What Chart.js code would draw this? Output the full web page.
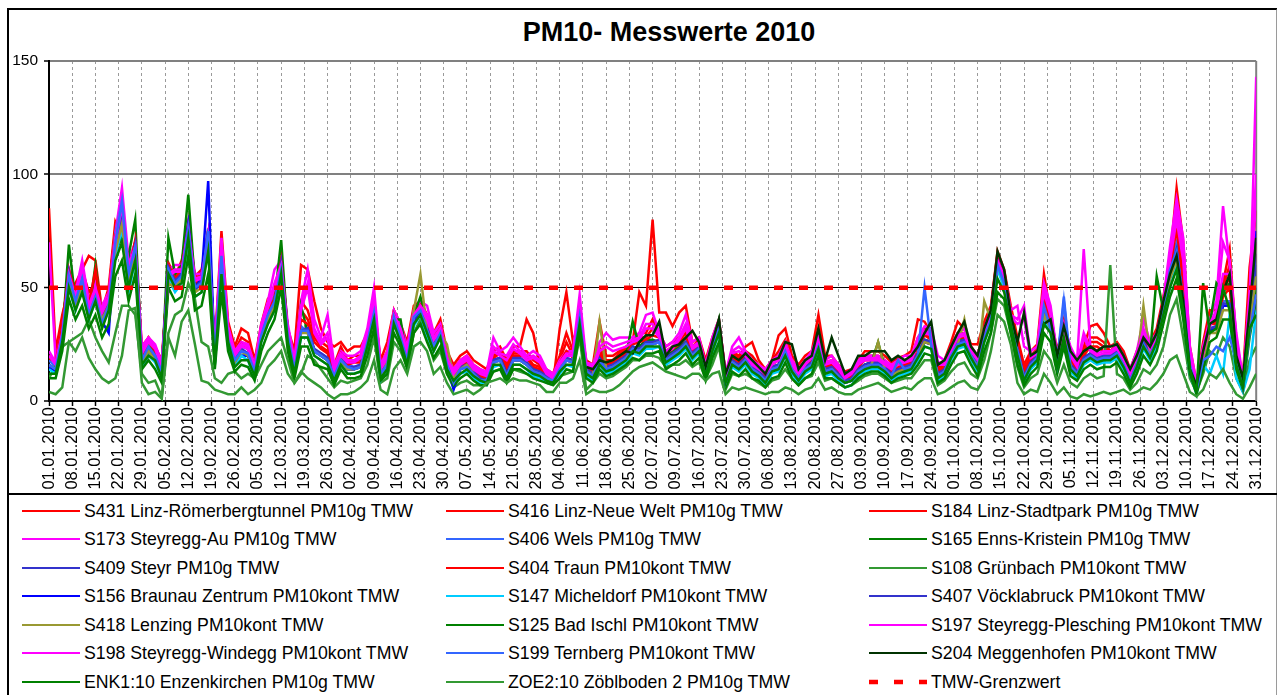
<!DOCTYPE html>
<html><head><meta charset="utf-8">
<script src="https://cdn.jsdelivr.net/npm/chart.js@4.4.1/dist/chart.umd.min.js"></script>
<style>
html,body{margin:0;padding:0;background:#fff;}
#wrap{position:relative;width:1277px;height:695px;overflow:hidden;font-family:'Liberation Sans',Arial,sans-serif;color:#000;}
#frame{position:absolute;left:7px;top:8px;width:1267px;height:720px;border-left:2px solid #000;border-top:2px solid #000;border-right:2px solid #9a9a9a;}
#sep{position:absolute;left:7px;top:493px;width:1270px;height:0;border-top:2px solid #000;}
#title{position:absolute;left:669px;top:19px;transform:translateX(-50%);font-weight:bold;font-size:27px;line-height:27px;white-space:nowrap;}
#chart{position:absolute;left:0;top:0;}
.lg{position:absolute;height:20px;display:flex;align-items:center;font-size:17.7px;line-height:20px;white-space:nowrap;}
.lg svg{margin-right:4px;flex:none;}
</style></head><body>
<div id="wrap">
<div id="frame"></div>
<div id="title">PM10- Messwerte 2010</div>
<canvas id="chart" width="1277" height="493"></canvas>
<div id="sep"></div>
<div id="legend"></div>
</div>
<script>
// x tick labels (every 7 days)
const tickLabels = ['01.01.2010','08.01.2010','15.01.2010','22.01.2010','29.01.2010','05.02.2010','12.02.2010','19.02.2010','26.02.2010','05.03.2010','12.03.2010','19.03.2010','26.03.2010','02.04.2010','09.04.2010','16.04.2010','23.04.2010','30.04.2010','07.05.2010','14.05.2010','21.05.2010','28.05.2010','04.06.2010','11.06.2010','18.06.2010','25.06.2010','02.07.2010','09.07.2010','16.07.2010','23.07.2010','30.07.2010','06.08.2010','13.08.2010','20.08.2010','27.08.2010','03.09.2010','10.09.2010','17.09.2010','24.09.2010','01.10.2010','08.10.2010','15.10.2010','22.10.2010','29.10.2010','05.11.2010','12.11.2010','19.11.2010','26.11.2010','03.12.2010','10.12.2010','17.12.2010','24.12.2010','31.12.2010'];
// sampled day index (day of year, every 2nd day)
const days = Array.from({length:183},(_,i)=>i*2);

const s431 = [85,22,38,50,52,58,64,62,40,50,79,72,60,70,
24,28,24,18,58,55,62,75,55,58,72,24,75,35,
24,32,30,18,34,45,48,60,32,22,60,58,44,32,
26,24,26,22,24,24,30,42,18,26,40,34,26,42,
44,38,30,36,22,16,20,22,18,16,14,22,24,18,
24,24,36,30,16,12,8,32,48,26,36,18,16,35,
20,20,22,24,26,48,42,80,39,39,33,39,42,26,
28,18,28,36,12,22,20,24,26,18,14,18,29,32,
20,16,20,22,38,20,20,16,13,14,18,22,22,22,
20,17,19,20,22,36,35,30,16,18,26,35,32,25,
25,35,42,66,58,42,28,16,22,25,56,38,22,36,
22,18,24,33,34,30,24,26,22,14,22,30,26,32,
46,62,94,70,24,8,26,40,40,52,67,26,10,59,
84];
const s416 = [20,18,36,54,50,58,48,52,40,48,76,80,58,68,
22,28,24,16,60,56,60,78,54,56,74,22,70,32,
22,28,26,16,32,42,46,62,32,18,44,40,30,26,
24,16,24,18,20,20,30,44,16,22,40,32,22,40,
42,36,28,34,20,14,18,20,16,14,12,20,22,16,
22,22,22,18,16,14,12,20,30,22,38,16,15,24,
18,18,21,23,27,30,30,36,30,24,26,28,32,24,
27,16,27,35,12,21,19,22,20,16,13,18,22,27,
18,14,18,20,32,17,18,15,12,13,17,20,20,20,
18,15,17,18,19,28,32,29,15,17,24,30,30,24,
20,32,40,65,57,40,26,14,20,23,50,36,20,34,
20,16,22,28,28,26,22,25,20,12,20,29,24,30,
44,60,86,60,22,7,24,36,36,50,60,24,9,50,
75];
const s184 = [20,17,34,56,48,57,44,55,39,47,75,84,56,70,
21,27,23,15,61,55,59,79,53,55,76,21,68,31,
21,26,24,15,31,41,46,63,31,17,40,36,28,24,
22,14,22,17,18,18,29,43,15,20,39,31,21,39,
43,34,27,33,19,13,17,18,15,12,11,20,21,15,
21,21,20,16,15,13,11,18,26,20,39,16,14,22,
17,18,20,22,26,28,28,32,29,22,24,26,30,23,
26,15,26,35,11,20,18,21,18,15,12,17,20,26,
17,13,17,19,30,16,17,14,11,12,16,19,19,19,
17,14,16,17,18,26,30,28,14,16,23,29,29,23,
19,31,39,64,56,39,25,13,19,22,48,35,19,33,
19,15,21,26,26,24,22,24,19,12,19,28,23,29,
43,59,80,56,20,7,22,35,35,48,55,22,9,46,
70];
const s173 = [70,18,32,58,48,62,44,52,42,48,74,94,62,70,
24,28,25,17,58,60,60,78,56,56,74,23,72,33,
22,26,25,16,34,44,58,62,34,18,44,58,36,28,
38,16,22,20,20,22,32,50,16,22,40,34,24,40,
44,42,30,34,20,14,18,20,16,14,13,28,22,24,
28,24,20,22,20,14,12,18,22,22,47,17,16,26,
30,27,28,28,28,30,38,39,30,24,26,30,38,26,
28,16,28,36,12,24,28,22,18,16,14,18,20,26,
18,14,18,22,30,18,20,16,12,14,18,20,20,20,
18,16,18,20,20,28,33,32,20,18,24,30,32,24,
20,32,40,64,56,40,42,24,22,24,52,42,20,34,
24,18,67,24,22,24,24,25,20,14,22,36,26,30,
44,68,89,72,24,8,24,36,44,86,60,30,10,48,
100];
const s406 = [18,15,31,58,46,56,41,48,35,44,74,88,58,70,
20,26,21,15,60,54,57,78,51,54,76,21,68,28,
20,24,23,15,31,41,46,60,31,16,33,30,22,21,
19,12,19,16,15,16,27,41,13,17,38,29,19,39,
40,32,25,31,17,6,15,16,13,10,10,18,19,12,
19,19,17,14,13,11,10,15,19,18,40,14,12,18,
15,16,18,20,24,23,26,26,27,19,21,23,26,21,
24,13,24,33,9,18,16,19,15,13,10,15,16,23,
15,11,15,17,25,14,15,12,9,10,14,16,17,17,
15,12,16,15,16,21,27,26,12,14,21,26,27,21,
16,29,37,62,54,37,23,11,17,20,47,33,17,46,
16,13,19,21,19,20,20,22,17,10,17,26,21,27,
41,60,70,46,17,5,19,32,33,44,44,19,7,37,
50];
const s165 = [14,15,28,69,44,52,38,60,36,44,66,72,64,80,
18,24,22,12,72,56,60,91,52,50,70,19,60,28,
16,20,20,12,28,38,44,71,30,14,42,30,22,20,
18,10,18,14,14,16,26,38,12,16,36,36,18,38,
46,34,24,30,16,10,14,16,13,10,10,18,18,12,
18,18,16,14,13,11,10,15,18,18,38,14,12,20,
15,16,18,20,35,24,27,27,26,20,22,24,26,22,
24,13,24,36,9,18,16,20,15,13,10,15,16,22,
15,11,15,17,25,14,15,12,9,10,14,16,17,26,
15,12,14,15,16,21,27,26,12,14,22,27,28,22,
16,29,38,60,50,36,22,11,17,20,40,33,17,31,
16,13,19,21,19,20,20,22,17,10,17,26,21,55,
40,54,62,42,16,5,19,34,52,48,52,19,8,36,
50];
const s409 = [16,14,28,55,42,52,38,47,36,42,68,80,52,68,
17,22,18,12,58,52,55,76,49,52,74,18,60,27,
17,22,20,12,28,37,42,60,28,13,30,31,22,20,
18,10,18,14,14,15,26,40,11,16,36,28,18,35,
40,31,24,30,16,10,14,15,12,9,9,17,18,11,
18,18,16,13,12,10,9,14,18,17,35,13,11,18,
14,15,17,19,23,22,25,25,26,18,20,22,25,20,
23,12,23,32,8,17,15,18,14,12,9,14,15,22,
14,10,14,16,24,13,14,11,8,9,13,15,16,16,
14,11,13,14,15,20,26,25,11,13,20,25,26,20,
15,28,36,60,52,36,22,10,16,19,38,32,16,30,
15,12,18,20,18,19,19,21,16,9,16,25,20,26,
40,56,66,43,16,4,18,31,32,42,42,18,6,36,
60];
const s404 = [19,17,33,58,47,56,42,58,38,46,73,82,57,71,
20,26,22,15,60,54,58,78,52,54,75,20,66,30,
20,25,23,15,30,40,45,62,30,16,36,34,26,23,
21,13,21,16,17,17,28,42,14,19,38,30,20,38,
42,33,26,32,18,12,16,17,14,11,10,19,21,14,
20,20,19,15,14,12,10,17,22,19,38,15,13,21,
16,17,19,21,25,26,27,29,28,21,23,25,28,22,
25,14,25,34,10,19,17,20,17,14,11,16,18,25,
16,12,16,18,28,15,16,13,10,11,15,18,18,18,
16,13,15,16,17,24,29,27,13,15,22,28,28,22,
18,30,38,63,55,38,24,12,18,21,45,34,18,32,
18,14,20,24,24,22,21,23,18,11,18,27,22,28,
42,58,76,52,19,6,21,34,34,46,50,21,8,42,
65];
const s108 = [10,16,24,26,28,30,36,28,22,17,30,42,42,38,
12,8,9,2,30,38,40,52,45,26,24,10,8,12,
13,10,12,10,16,22,25,28,18,8,12,20,18,14,
10,6,9,8,9,10,16,28,8,10,26,22,15,30,
36,28,18,22,12,6,8,9,7,7,10,13,14,10,
14,13,12,11,10,8,7,11,12,13,28,5,8,12,
10,11,13,15,18,18,20,20,19,15,16,16,18,15,
17,10,16,24,5,12,11,12,10,8,6,9,10,14,
10,7,10,11,17,9,10,8,6,7,9,11,12,12,
10,8,9,10,10,14,18,18,7,9,13,16,17,12,
10,18,30,45,42,30,15,6,10,12,22,18,8,16,
8,6,10,12,10,11,60,12,10,5,8,14,12,16,
24,38,45,28,10,4,12,22,20,28,24,10,4,18,
24];
const s156 = [15,13,27,56,44,58,40,46,35,30,70,86,50,65,
16,22,18,12,58,52,56,78,50,54,97,18,62,28,
16,20,20,12,28,38,43,58,28,12,30,32,22,20,
18,10,19,14,14,15,26,40,10,16,36,28,18,36,
40,32,24,30,16,5,14,16,12,9,9,18,19,12,
18,18,17,13,12,10,9,14,18,18,36,13,11,18,
14,15,17,19,23,22,25,25,26,18,20,22,25,20,
23,12,23,33,8,17,15,18,14,12,9,14,16,22,
14,10,14,16,24,13,14,11,8,9,13,16,17,16,
14,11,14,14,15,20,26,25,11,13,20,25,26,20,
15,28,36,62,54,36,22,10,16,19,40,32,16,30,
15,12,18,20,18,19,19,21,16,9,16,25,20,26,
40,56,66,43,16,4,18,31,32,42,42,18,6,36,
75];
const s147 = [14,12,25,50,40,50,36,44,33,40,64,76,48,62,
15,20,17,10,54,48,52,70,46,48,68,16,56,24,
15,20,18,10,26,34,40,56,26,12,28,28,20,18,
16,9,16,12,12,13,24,38,9,14,34,26,16,33,
38,29,22,28,14,8,12,13,10,8,7,15,16,10,
16,16,14,11,10,8,8,12,16,15,33,11,9,16,
12,13,15,17,21,20,23,23,24,16,18,20,23,18,
21,10,21,30,7,15,13,16,12,10,7,12,13,20,
12,8,12,14,22,11,12,9,6,7,11,13,14,14,
12,9,11,12,13,18,24,23,9,11,18,23,24,18,
13,26,34,58,50,34,20,8,14,17,36,30,14,28,
13,10,16,18,16,17,17,19,14,7,14,23,18,24,
38,50,60,38,12,3,16,12,20,12,38,10,4,14,
40];
const s407 = [16,14,29,57,43,53,39,48,36,43,70,82,54,69,
18,23,19,13,59,53,56,77,50,53,75,19,62,28,
18,23,21,13,29,38,43,61,29,14,31,32,23,21,
19,11,19,15,15,16,27,41,12,17,37,29,19,36,
41,32,25,31,17,11,15,16,13,10,9,18,19,12,
19,19,17,14,13,11,10,15,19,18,36,14,12,19,
15,16,18,20,24,23,26,26,27,19,21,23,26,21,
24,13,24,33,9,18,16,19,15,13,10,15,16,23,
15,11,15,17,25,14,15,12,9,10,14,16,17,17,
15,12,14,15,16,21,27,26,12,14,21,26,27,21,
16,29,37,61,53,37,23,11,17,20,39,33,17,31,
16,13,19,21,19,20,20,22,17,10,17,26,21,27,
41,57,67,44,17,5,19,32,33,43,43,19,7,37,
65];
const s418 = [16,14,26,52,42,52,38,46,36,42,66,78,52,66,
17,22,18,12,52,50,54,74,48,50,70,18,60,27,
17,22,20,12,28,36,42,58,28,13,30,30,22,20,
18,10,18,14,14,15,26,40,11,17,36,28,18,40,
56,31,24,30,25,10,14,16,12,9,9,17,18,11,
18,18,16,13,12,10,9,14,18,17,34,13,11,35,
14,15,17,19,23,22,25,25,26,18,20,22,25,20,
23,12,23,32,8,17,15,18,14,12,9,14,15,22,
14,10,14,16,24,13,14,11,8,9,13,15,16,26,
14,11,13,14,15,20,26,25,11,13,20,25,36,20,
15,44,36,60,52,36,22,10,16,19,38,32,16,30,
15,12,18,20,18,19,19,21,16,9,16,42,20,26,
40,54,62,42,15,4,18,30,30,40,40,17,6,34,
55];
const s125 = [10,10,22,45,36,42,32,38,28,34,55,62,44,56,
14,18,14,8,50,44,46,64,40,42,56,14,48,22,
13,16,15,9,22,30,36,50,22,10,24,24,16,15,
14,7,14,10,10,11,20,32,9,12,30,24,14,30,
34,26,19,24,12,7,10,12,9,7,7,13,14,8,
14,14,12,10,9,8,7,10,14,13,30,10,8,14,
11,12,14,16,19,18,21,21,22,14,16,18,21,16,
19,9,19,26,6,13,11,14,10,9,6,10,11,17,
10,7,10,12,20,10,10,8,6,7,10,12,13,13,
11,8,10,11,12,16,21,20,8,10,16,21,22,16,
11,22,30,48,45,30,16,7,12,15,30,26,12,24,
11,9,14,16,14,15,15,17,12,6,12,20,16,22,
34,46,54,36,12,3,14,26,28,36,36,14,5,28,
45];
const s197 = [22,17,30,56,46,60,42,50,40,46,72,88,60,68,
22,27,24,16,56,58,58,76,54,55,72,22,70,31,
21,25,24,15,33,42,52,60,32,17,42,52,32,26,
30,14,21,18,18,20,30,46,15,20,38,32,22,38,
42,38,28,32,19,13,17,19,15,13,12,24,21,20,
25,22,19,20,18,13,11,17,21,21,42,16,15,24,
26,24,25,26,27,28,34,34,29,22,24,28,34,24,
26,15,26,34,11,22,24,21,17,15,13,17,19,25,
17,13,17,20,28,17,18,15,11,13,17,19,19,19,
17,15,17,18,19,26,31,30,17,17,23,29,30,23,
19,31,39,62,55,38,36,42,20,22,50,40,19,33,
21,16,30,23,21,22,22,24,19,13,20,32,24,29,
43,64,84,66,22,7,22,34,40,70,62,28,9,44,
90];
const s198 = [20,16,29,55,45,58,41,49,39,45,70,86,58,66,
21,26,23,15,55,57,57,75,53,54,70,21,68,30,
20,24,23,14,32,41,50,58,31,16,40,50,30,25,
28,13,20,17,17,19,29,44,14,19,37,31,21,37,
41,36,27,31,18,12,16,18,14,12,11,22,20,18,
23,21,18,19,17,12,10,16,20,20,40,15,14,22,
24,22,23,24,26,27,32,32,28,21,23,27,32,23,
25,14,25,33,10,21,22,20,16,14,12,16,18,24,
16,12,16,19,27,16,17,14,10,12,16,18,18,18,
16,14,16,17,18,25,30,29,16,16,22,28,29,22,
18,30,38,60,53,37,34,36,19,21,48,38,18,32,
20,15,28,22,20,21,21,23,18,12,19,30,23,28,
42,62,80,62,21,6,21,33,38,56,56,26,8,40,
143];
const s199 = [16,14,29,55,44,54,38,46,34,42,70,88,56,68,
18,24,20,13,58,52,55,76,50,52,75,19,64,27,
18,22,21,13,29,38,44,58,29,14,31,31,22,20,
18,11,18,15,14,15,26,39,12,16,37,28,18,37,
40,31,24,30,16,8,14,15,12,9,9,17,18,11,
18,18,16,13,12,10,9,14,18,17,37,13,11,18,
14,15,17,19,23,22,25,25,26,18,20,22,25,20,
23,12,23,32,8,17,15,18,14,12,9,14,15,22,
14,10,14,16,24,13,14,11,8,9,13,15,16,16,
14,11,18,14,15,20,50,25,11,13,20,25,26,20,
15,28,36,60,52,36,22,10,16,19,42,32,16,44,
15,12,18,20,18,19,19,21,16,9,16,25,20,26,
40,58,66,44,16,5,18,20,24,22,28,18,6,30,
47];
// S204 starts in June (no data before)
const s204 = Array(81).fill(null).concat([15,14,18,
17,18,20,22,21,26,29,29,35,20,24,25,28,31,
26,15,26,36,12,20,18,21,18,15,12,18,19,26,
25,14,18,20,32,18,28,20,12,14,20,20,22,22,
22,18,20,18,20,24,30,35,16,18,24,30,35,24,
20,32,40,66,58,38,26,39,20,22,34,36,20,33,
22,18,22,24,22,24,24,25,20,14,20,28,24,30,
44,56,64,44,14,7,22,34,36,48,56,20,10,40,
72]);
const enk1 = [12,12,26,50,40,48,36,44,32,40,62,70,50,62,
16,20,18,10,56,50,52,72,46,48,66,16,56,26,
15,18,18,11,26,34,40,56,26,12,28,28,20,18,
16,9,16,12,12,13,24,36,10,14,34,26,16,34,
38,30,22,28,14,9,12,14,11,9,8,16,16,10,
16,16,14,12,11,9,8,13,16,16,34,12,10,16,
13,14,16,18,22,21,24,24,24,17,19,21,24,19,
22,11,22,30,8,16,14,17,13,11,8,13,14,20,
13,9,13,15,23,12,13,10,8,9,12,14,15,15,
13,10,12,13,14,19,24,23,10,12,19,24,25,19,
14,26,34,54,48,34,20,9,15,18,34,30,15,28,
14,11,17,19,17,18,18,20,15,8,15,24,19,26,
38,50,58,40,14,4,52,30,32,50,40,16,6,32,
38];
const zoe2 = [4,3,6,26,22,28,19,14,10,8,10,20,40,41,
8,3,4,1,28,20,35,40,25,9,8,5,4,3,
3,6,3,5,8,15,18,22,12,8,13,10,8,6,
3,1,3,3,4,6,9,18,5,3,14,18,12,24,
26,22,12,15,8,3,4,5,3,5,8,9,10,8,
10,9,9,8,7,4,4,8,8,10,18,3,5,4,
4,5,7,10,13,15,16,17,15,13,12,11,10,12,
12,9,12,13,3,6,5,6,5,4,3,4,4,6,
5,3,5,6,10,5,6,4,3,3,5,6,7,8,
6,4,5,6,5,8,10,10,3,4,6,8,9,6,
5,10,22,38,35,25,8,3,5,4,12,8,3,6,
2,1,3,2,3,4,3,4,5,3,4,6,5,8,
12,18,20,12,4,2,5,12,10,14,8,3,1,6,
12];
// limit value
const limitDays = [0, 364];
const limitValues = [50, 50];

const seriesNames = ['S431 Linz-Römerbergtunnel PM10g TMW','S416 Linz-Neue Welt PM10g TMW','S184 Linz-Stadtpark PM10g TMW',
'S173 Steyregg-Au PM10g TMW','S406 Wels PM10g TMW','S165 Enns-Kristein PM10g TMW',
'S409 Steyr PM10g TMW','S404 Traun PM10kont TMW','S108 Grünbach PM10kont TMW',
'S156 Braunau Zentrum PM10kont TMW','S147 Micheldorf PM10kont TMW','S407 Vöcklabruck PM10kont TMW',
'S418 Lenzing PM10kont TMW','S125 Bad Ischl PM10kont TMW','S197 Steyregg-Plesching PM10kont TMW',
'S198 Steyregg-Windegg PM10kont TMW','S199 Ternberg PM10kont TMW','S204 Meggenhofen PM10kont TMW',
'ENK1:10 Enzenkirchen PM10g TMW','ZOE2:10 Zöblboden 2 PM10g TMW'];
const seriesValues = [s431,s416,s184,s173,s406,s165,s409,s404,s108,s156,s147,s407,s418,s125,s197,s198,s199,s204,enk1,zoe2];
const seriesColors = ['#FF0000','#FF0000','#FF0000','#FF00FF','#3366FF','#008000','#3333CC','#FF0000','#339933',
'#0000FF','#00CCFF','#3333CC','#999933','#008000','#FF00FF','#FF00FF','#3366FF','#003300','#008000','#339933'];
const limitName = 'TMW-Grenzwert';

const datasets = seriesValues.map((vals, i) => ({
  label: seriesNames[i],
  data: days.map((d, k) => ({x: d, y: vals[k] === undefined ? null : vals[k]})),
  borderColor: seriesColors[i],
  backgroundColor: seriesColors[i],
  borderWidth: 2.5,
  pointRadius: 0,
  tension: 0,
  spanGaps: false,
  order: -i
}));
datasets.push({
  label: limitName,
  data: limitDays.map((d, k) => ({x: d, y: limitValues[k]})),
  borderColor: '#FF0000',
  borderWidth: 4.5,
  borderDash: [9, 16],
  pointRadius: 0,
  order: -100
});

const plotFrame = {
  id: 'plotFrame',
  beforeDatasetsDraw(c) {
    const {ctx, chartArea: a} = c;
    ctx.save();
    ctx.strokeStyle = '#808080';
    ctx.lineWidth = 2;
    ctx.beginPath();
    ctx.moveTo(a.right, a.top);
    ctx.lineTo(a.right, a.bottom);
    ctx.stroke();
    ctx.restore();
  }
};

const FONT = "'Liberation Sans', Arial, sans-serif";
new Chart(document.getElementById('chart'), {
  type: 'line',
  data: { datasets },
  plugins: [plotFrame],
  options: {
    responsive: false,
    animation: false,
    devicePixelRatio: 1,
    layout: { padding: { top: 61, right: 17, left: 0, bottom: 0 } },
    plugins: { legend: { display: false }, title: { display: false }, tooltip: { enabled: false } },
    scales: {
      x: {
        type: 'linear', min: 0, max: 364,
        afterFit: s => { s.height = 92; },
        ticks: {
          stepSize: 7, autoSkip: false, minRotation: 90, maxRotation: 90,
          color: '#000', font: { family: FONT, size: 16.5 }, padding: 1,
          callback: v => tickLabels[Math.round(v / 7)]
        },
        grid: { color: '#9a9a9a', lineWidth: 1, tickColor: '#000', tickLength: 5, tickWidth: 1.5 },
        border: { color: '#000', width: 2, dash: [3, 3] }
      },
      y: {
        min: 0, max: 150,
        afterFit: s => { s.width = 49; },
        ticks: { stepSize: 50, color: '#000', font: { family: FONT, size: 15.5 }, padding: 6 },
        grid: {
          color: c => c.tick.value === 50 ? '#000' : (c.tick.value === 0 ? 'rgba(0,0,0,0)' : '#808080'),
          lineWidth: c => c.tick.value === 50 ? 1 : 2,
          tickColor: '#000', tickLength: 5, tickWidth: 1.5
        },
        border: { color: '#000', width: 2 }
      }
    }
  }
});

// HTML legend: 3 columns, row-major
const colX = [22, 446, 869];
const rowY = [510.5, 539, 567.5, 596, 624.5, 653, 681.5];
const legend = document.getElementById('legend');
const items = seriesNames.map((n, i) => ({name: n, color: seriesColors[i], dash: false}));
items.push({name: limitName, color: '#FF0000', dash: true});
items.forEach((it, i) => {
  const r = Math.floor(i / 3), c = i % 3;
  const el = document.createElement('div');
  el.className = 'lg';
  el.style.left = colX[c] + 'px';
  el.style.top = (rowY[r] - 10) + 'px';
  const svg = it.dash
    ? '<svg width="58" height="6"><line x1="0" y1="3" x2="58" y2="3" stroke="' + it.color + '" stroke-width="4.5" stroke-dasharray="9,16"/></svg>'
    : '<svg width="58" height="6"><line x1="0" y1="3" x2="58" y2="3" stroke="' + it.color + '" stroke-width="2"/></svg>';
  el.innerHTML = svg + '<span>' + it.name + '</span>';
  legend.appendChild(el);
});
</script>
</body></html>
